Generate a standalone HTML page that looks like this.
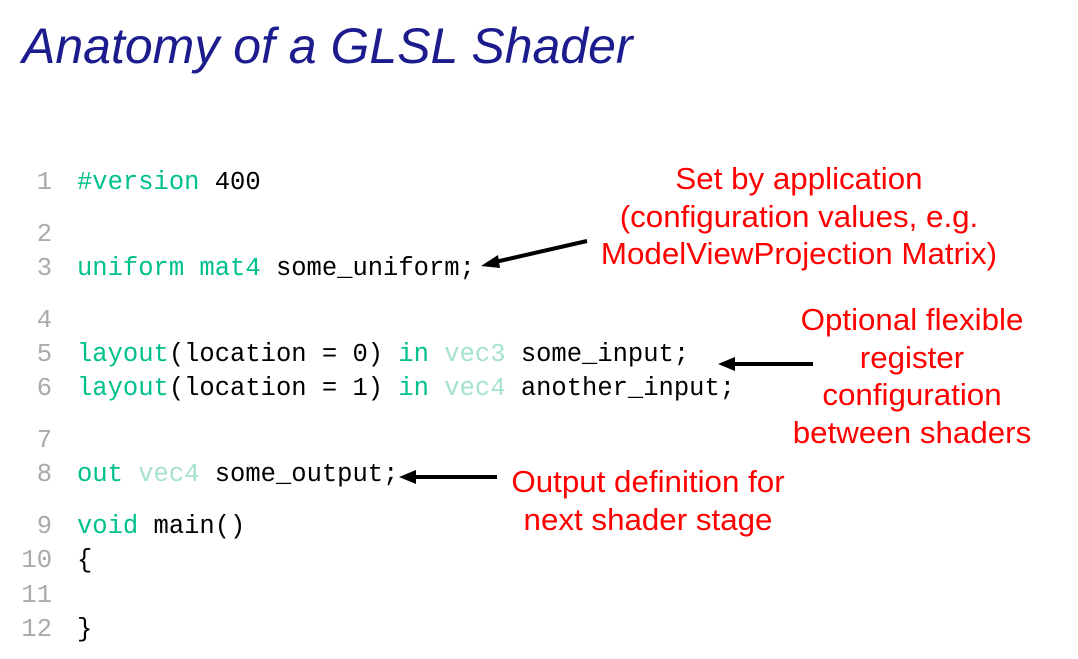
<!DOCTYPE html>
<html><head><meta charset="utf-8"><style>
body{margin:0;width:1078px;height:659px;background:#fff;position:relative;overflow:hidden}
.t{position:absolute;left:22px;top:17px;font:italic 50px "Liberation Sans",sans-serif;color:#1c1c8e;white-space:nowrap}
.l{position:absolute;left:0;font:25.5px "Liberation Mono",monospace;white-space:pre;color:#000;line-height:30px}
.n{display:inline-block;width:52px;text-align:right;color:#aaa;margin-right:25px}
.g{color:#00c08b}.p{color:#a6e3cc}
.r{position:absolute;font:31px "Liberation Sans",sans-serif;color:#f00;text-align:center;line-height:37.7px;transform:scaleX(1.01);white-space:nowrap}
</style></head><body>
<div class="t">Anatomy of a GLSL Shader</div>
<div class="l" style="top:168px"><span class="n">1</span><span class="g">#version</span> 400</div>
<div class="l" style="top:220px"><span class="n">2</span></div>
<div class="l" style="top:254px"><span class="n">3</span><span class="g">uniform mat4</span> some_uniform;</div>
<div class="l" style="top:306px"><span class="n">4</span></div>
<div class="l" style="top:340px"><span class="n">5</span><span class="g">layout</span>(location = 0) <span class="g">in</span> <span class="p">vec3</span> some_input;</div>
<div class="l" style="top:374px"><span class="n">6</span><span class="g">layout</span>(location = 1) <span class="g">in</span> <span class="p">vec4</span> another_input;</div>
<div class="l" style="top:426px"><span class="n">7</span></div>
<div class="l" style="top:460px"><span class="n">8</span><span class="g">out</span> <span class="p">vec4</span> some_output;</div>
<div class="l" style="top:512px"><span class="n">9</span><span class="g">void</span> main()</div>
<div class="l" style="top:546px"><span class="n">10</span>{</div>
<div class="l" style="top:581px"><span class="n">11</span></div>
<div class="l" style="top:615px"><span class="n">12</span>}</div>
<div class="r" style="left:549px;width:500px;top:160px">Set by application<br>(configuration values, e.g.<br>ModelViewProjection Matrix)</div>
<div class="r" style="left:762px;width:300px;top:301px">Optional flexible<br>register<br>configuration<br>between shaders</div>
<div class="r" style="left:448px;width:400px;top:463px">Output definition for<br>next shader stage</div>
<svg width="1078" height="659" style="position:absolute;left:0;top:0">
<g stroke="#000" stroke-width="4"><line x1="587" y1="241" x2="495" y2="262"/><line x1="813" y1="364" x2="732" y2="364"/><line x1="497" y1="477" x2="412" y2="477"/></g>
<polygon points="481,266 498,255 500,268" fill="#000"/>
<polygon points="718,364 735,357 735,371" fill="#000"/>
<polygon points="399,477 416,470 416,484" fill="#000"/>
</svg>
</body></html>
